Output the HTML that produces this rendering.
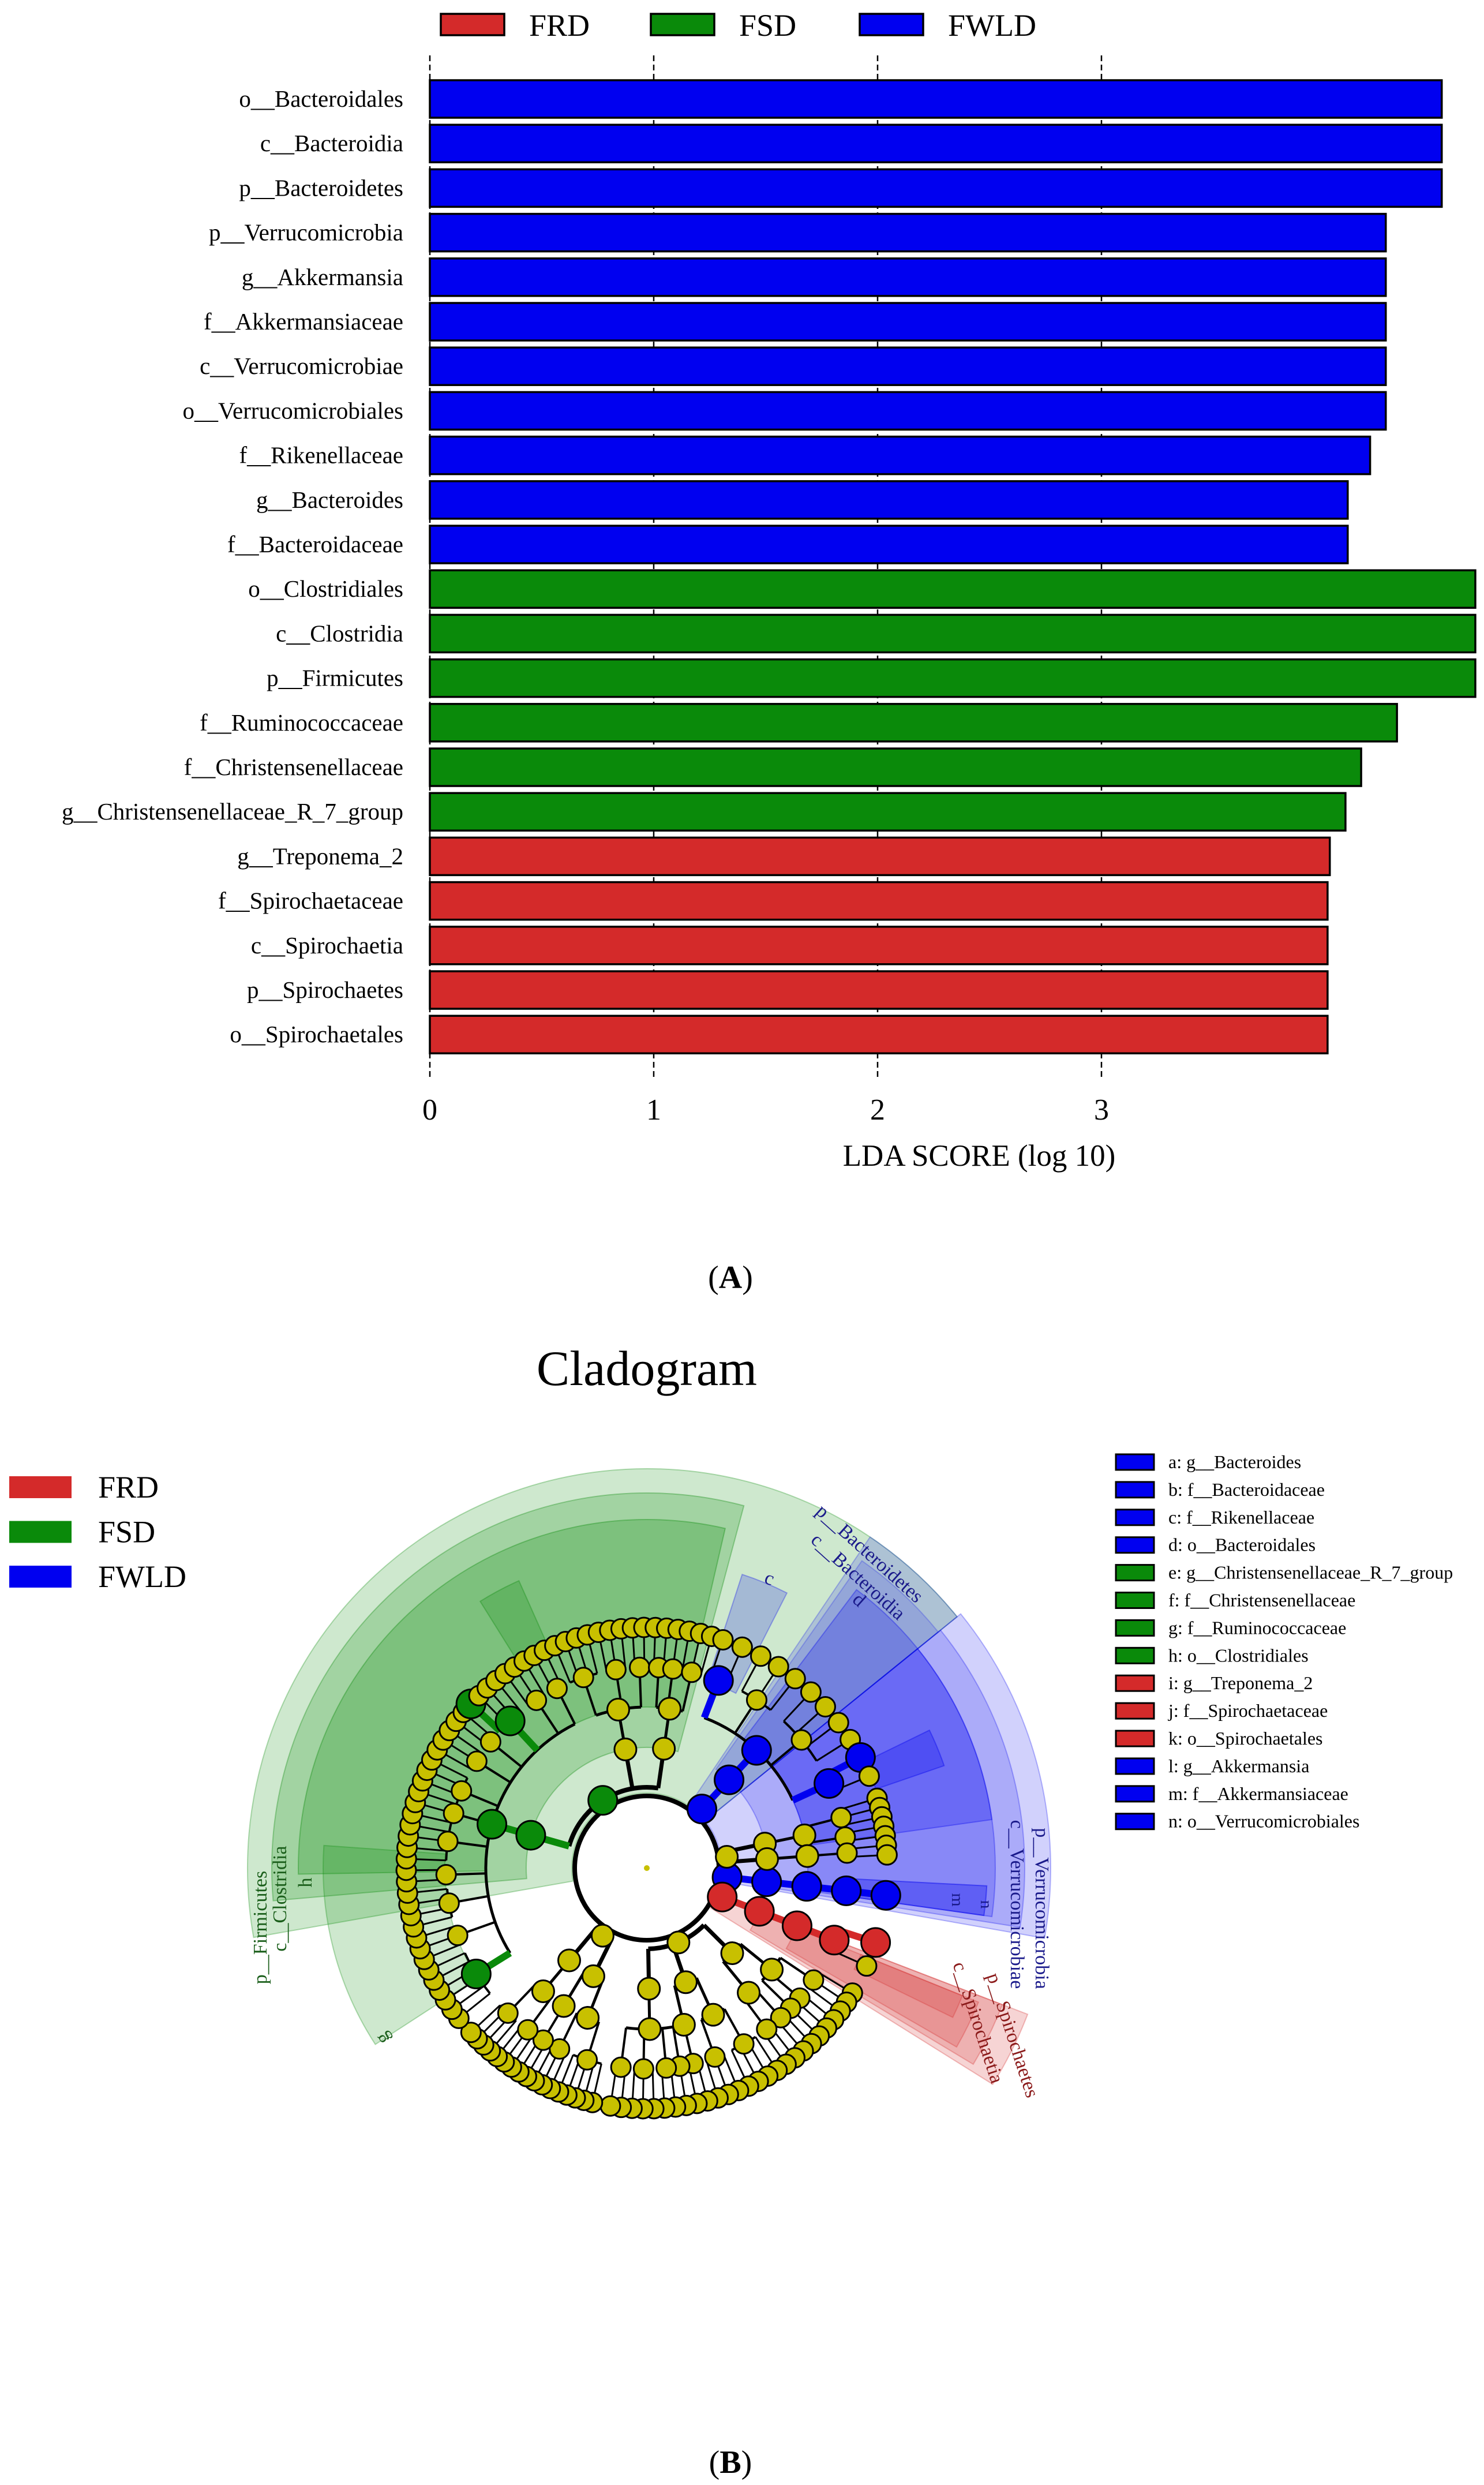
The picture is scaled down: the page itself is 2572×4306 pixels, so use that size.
<!DOCTYPE html>
<html><head><meta charset="utf-8">
<style>
html,body{margin:0;padding:0;background:#fff;}
svg{display:block;}
text{font-family:"Liberation Serif",serif;}
</style></head>
<body>
<svg id="root" width="2572" height="4306" viewBox="0 0 2572 4306" xmlns="http://www.w3.org/2000/svg" font-family="Liberation Serif, serif">
<g id="chartA"></g>
<text x="1266" y="2232" font-size="56" text-anchor="middle">(<tspan font-weight="bold">A</tspan>)</text>
<text x="1121" y="2400" font-size="86" text-anchor="middle">Cladogram</text>
<g id="clado"></g>
<text x="1266" y="4285" font-size="56" text-anchor="middle">(<tspan font-weight="bold">B</tspan>)</text>
</svg>
<script>
const categories = ["o__Bacteroidales","c__Bacteroidia","p__Bacteroidetes","p__Verrucomicrobia","g__Akkermansia","f__Akkermansiaceae","c__Verrucomicrobiae","o__Verrucomicrobiales","f__Rikenellaceae","g__Bacteroides","f__Bacteroidaceae","o__Clostridiales","c__Clostridia","p__Firmicutes","f__Ruminococcaceae","f__Christensenellaceae","g__Christensenellaceae_R_7_group","g__Treponema_2","f__Spirochaetaceae","c__Spirochaetia","p__Spirochaetes","o__Spirochaetales"];
const ldaValues = [4.52,4.52,4.52,4.27,4.27,4.27,4.27,4.27,4.20,4.10,4.10,4.67,4.67,4.67,4.32,4.16,4.09,4.02,4.01,4.01,4.01,4.01];
const groups = ["FWLD","FWLD","FWLD","FWLD","FWLD","FWLD","FWLD","FWLD","FWLD","FWLD","FWLD","FSD","FSD","FSD","FSD","FSD","FSD","FRD","FRD","FRD","FRD","FRD"];
const tickValues = [0,1,2,3];
const legendGroups = ["FRD","FSD","FWLD"];
const COL = {FRD:"#d42a2a", FSD:"#0a8a0a", FWLD:"#0000f0"};
const NS = "http://www.w3.org/2000/svg";
function mk(tag, attrs, parent){const e=document.createElementNS(NS,tag);for(const k in attrs)e.setAttribute(k,attrs[k]);parent.appendChild(e);return e;}
const xS = v => 745 + v*388;
const yS = i => 139 + i*77.2;
const A = document.getElementById('chartA');
tickValues.forEach(t=>{
  const l = mk('line',{x1:xS(t),x2:xS(t),y1:96,y2:1870,stroke:'#000','stroke-width':2.5,'stroke-dasharray':'10,6'},A);
  
  
  const tx = mk('text',{x:xS(t),y:1940,'font-size':52,'text-anchor':'middle'},A);
  tx.textContent = t;
  
  
});
categories.forEach((c,i)=>{
  const r = mk('rect',{x:xS(0),y:yS(i),width:xS(ldaValues[i])-xS(0),height:65,fill:COL[groups[i]],stroke:'#000','stroke-width':3.5},A);
  
  
  const t = mk('text',{x:699,y:yS(i)+46,'font-size':41,'text-anchor':'end'},A);
  t.textContent = c;
  
  
});
const at = mk('text',{x:1697,y:2020,'font-size':53,'text-anchor':'middle'},A);
at.textContent = "LDA SCORE (log 10)";


const legX = [764,1128,1490];
legendGroups.forEach((g,i)=>{
  const r = mk('rect',{x:legX[i],y:24,width:110,height:37,fill:COL[g],stroke:'#000','stroke-width':3.5},A);
  
  
  const t = mk('text',{x:legX[i]+153,y:62,'font-size':54},A);
  t.textContent = g;
  
  
});

/* ---------- Cladogram ---------- */
const C = document.getElementById('clado');
const cx=1121, cy=3237;
const LV = [125,140,209,279,348,417];
const YEL="#c8c000", GRN="#0a8a0a", BLU="#0000f0", RED="#d42a2a";
function pt(r,a){const t=a*Math.PI/180;return [cx+r*Math.cos(t), cy+r*Math.sin(t)];}
function wedge(r0,r1,a0,a1,fill,op,name){
  if(a1<a0)a1+=360;
  const p0=pt(r1,a0),p1=pt(r1,a1),p2=pt(r0,a1),p3=pt(r0,a0);
  const lg=(a1-a0)>180?1:0;
  const d=`M${p0[0]},${p0[1]} A${r1},${r1} 0 ${lg} 1 ${p1[0]},${p1[1]} L${p2[0]},${p2[1]} A${r0},${r0} 0 ${lg} 0 ${p3[0]},${p3[1]} Z`;
  const e=mk('path',{d:d,fill:fill,'fill-opacity':op,stroke:fill,'stroke-opacity':op*1.5,'stroke-width':2},C);
  
  
}
const wedges = [
 [130,692,170,321,GRN,.2,'wedge-firmicutes'],
 [209,650,175,285,GRN,.22,'wedge-clostridia'],
 [279,604,179,283,GRN,.24,'wedge-clostridiales'],
 [350,561,147,184,GRN,.2,'wedge-g-ruminococcaceae'],
 [420,545,238,246,GRN,.22,'wedge-e-f'],
 [130,692,304,321,BLU,.16,'wedge-bacteroidetes'],
 [209,650,305,321,BLU,.14,'wedge-bacteroidia'],
 [279,604,307,352,BLU,.22,'wedge-bacteroidales'],
 [340,535,288,297,BLU,.2,'wedge-rikenellaceae'],
 [130,700,321,10,BLU,.18,'wedge-verrucomicrobia'],
 [209,655,321,9,BLU,.18,'wedge-verrucomicrobiae'],
 [279,604,321,8,BLU,.2,'wedge-verrucomicrobiales'],
 [420,545,334,341,BLU,.25,'wedge-a-b'],
 [348,590,3,8,BLU,.3,'wedge-l-m-n'],
 [130,707,21,32,RED,.2,'wedge-spirochaetes'],
 [209,660,21,31,RED,.2,'wedge-spirochaetia'],
 [279,620,22,30,RED,.2,'wedge-spirochaetales'],
 [400,590,22,26,RED,.2,'wedge-i-j']
];
wedges.forEach(w=>wedge(...w));
mk('circle',{cx:cx,cy:cy,r:125,fill:'#fff',stroke:'#000','stroke-width':8},C);

const phyla = [
 {a0:2,a1:11,pc:BLU,cls:[[[1]]],hl:{'0':BLU,'0.0':BLU,'0.0.0':BLU,'0.0.0.0':BLU}},
 {a0:15,a1:27,pc:RED,cls:[[[2]]],hl:{'0':RED,'0.0':RED,'0.0.0':RED,'0.0.0.0':RED}},
 {a0:30,a1:100,pc:YEL,cls:[[[3,2,1],[2,2]],[[4,3],[2]],[[1,2,3,2]]],hl:{}},
 {a0:102,a1:138,pc:YEL,cls:[[[5,3],[2]],[[3,4]]],hl:{}},
 {a0:140,a1:287,pc:GRN,cls:[[[6,3,4,2,5,1,4,3,2,4,3,2]],[[4,3,2]],[[2,1,3]]],hl:{'0':GRN,'0.0':GRN,'0.0.0':GRN,'0.0.9':GRN,'0.0.9.0':GRN}},
 {a0:286,a1:340,pc:BLU,cls:[[[2,3,4,2]]],hl:{'0':BLU,'0.0':BLU,'0.0.0':BLU,'0.0.3':BLU,'0.0.3.0':BLU}},
 {a0:342,a1:358,pc:YEL,cls:[[[3,2]],[[2]]],hl:{}}
];
const lineG = mk('g',{},C), nodeG = mk('g',{},C);
function leaves(x){return typeof x==='number'?Math.max(x,1):x.reduce((s,c)=>s+leaves(c),0);}
function place(x,a0,a1,depth,path,ph){
  let kids;
  if(typeof x==='number'){kids=[];for(let i=0;i<x;i++)kids.push(0);}else kids=x;
  let ang;
  const childAngles=[];
  if(depth===5 || x===null){ang=(a0+a1)/2;}
  else{
    const tot=kids.reduce((s,c)=>s+(c===0?1:leaves(c)),0);
    let a=a0;
    kids.forEach((k,i)=>{
      const w=(a1-a0)*(k===0?1:leaves(k))/tot;
      childAngles.push(place(k===0?null:k,a,a+w,depth+1,path===''?String(i):path+'.'+i,ph));
      a+=w;
    });
    ang=(childAngles[0]+childAngles[childAngles.length-1])/2;
    const r=LV[depth];
    const mn=childAngles[0],mx=childAngles[childAngles.length-1];
    const sw=[8,6,5,4,3][depth-1]||2;
    const p0=pt(r,mn),p1=pt(r,mx);
    mk('path',{d:`M${p0[0]},${p0[1]} A${r},${r} 0 ${(mx-mn)>180?1:0} 1 ${p1[0]},${p1[1]}`,fill:'none',stroke:'#000','stroke-width':sw},lineG);
    childAngles.forEach((ca,i)=>{
      const q0=pt(r,ca),q1=pt(LV[depth+1],ca);
      const col=ph.hl[(path===''?'':path+'.')+i];
      mk('line',{x1:q0[0],y1:q0[1],x2:q1[0],y2:q1[1],stroke:col||'#000','stroke-width':col?12:Math.max(sw-1,2)},lineG);
    });
  }
  const col = depth===1?ph.pc:(ph.hl[path]||YEL);
  const p=pt(LV[depth],ang);
  const rad = col===YEL?(depth>=4?17:19):25;
  const c=mk('circle',{cx:p[0],cy:p[1],r:rad,fill:col,stroke:'#000','stroke-width':3},nodeG);
  
  
  return ang;
}
phyla.forEach(ph=>place(ph.cls,ph.a0,ph.a1,1,'',ph));
mk('circle',{cx:cx,cy:cy,r:5,fill:YEL},C);

function rtext(txt,x,y,rot,col,name,fs){
  const t=mk('text',{x:x,y:y,'font-size':fs||34,fill:col,'text-anchor':'middle',transform:`rotate(${rot} ${x} ${y})`},C);
  t.textContent=txt;
  
  
}
rtext('p__Firmicutes',462,3340,-90,'#1a5e1a','label-firmicutes');
rtext('c__Clostridia',496,3290,-90,'#1a5e1a','label-clostridia');
rtext('h',540,3262,-90,'#1a5e1a','label-h');
rtext('g',672,3527,-120,'#1a5e1a','label-g');
rtext('p__Bacteroidetes',1500,2700,42,'#1a1a8b','label-bacteroidetes');
rtext('c__Bacteroidia',1480,2740,42,'#1a1a8b','label-bacteroidia');
rtext('d',1482,2780,42,'#1a1a8b','label-d');
rtext('c',1330,2745,20,'#1a1a8b','label-c');
rtext('p__Verrucomicrobia',1795,3307,90,'#1a1a8b','label-verrucomicrobia');
rtext('c__Verrucomicrobiae',1752,3300,90,'#1a1a8b','label-verrucomicrobiae');
rtext('p__Spirochaetes',1745,3530,72,'#8b1a1a','label-spirochaetes');
rtext('c__Spirochaetia',1685,3508,72,'#8b1a1a','label-spirochaetia');
rtext('m',1650,3292,90,'#1a1a8b','label-m',30);
rtext('n',1700,3300,90,'#1a1a8b','label-n',30);

const cladoLegend = ["FRD","FSD","FWLD"];
cladoLegend.forEach((g,i)=>{
  const y=2558+i*77.5;
  const r=mk('rect',{x:16,y:y,width:108,height:38,fill:COL[g]},C);
  
  
  const t=mk('text',{x:170,y:y+37,'font-size':54},C);
  t.textContent=g;
  
  
});
const keyLabels = ["a: g__Bacteroides","b: f__Bacteroidaceae","c: f__Rikenellaceae","d: o__Bacteroidales","e: g__Christensenellaceae_R_7_group","f: f__Christensenellaceae","g: f__Ruminococcaceae","h: o__Clostridiales","i: g__Treponema_2","j: f__Spirochaetaceae","k: o__Spirochaetales","l: g__Akkermansia","m: f__Akkermansiaceae","n: o__Verrucomicrobiales"];
const keyGroups = ["FWLD","FWLD","FWLD","FWLD","FSD","FSD","FSD","FSD","FRD","FRD","FRD","FWLD","FWLD","FWLD"];
keyLabels.forEach((k,i)=>{
  const y=2533+i*47.9;
  const r=mk('rect',{x:1934,y:y-13,width:66,height:27,fill:COL[keyGroups[i]],stroke:'#000','stroke-width':3},C);
  
  
  const t=mk('text',{x:2025,y:y+11,'font-size':32},C);
  t.textContent=k;
  
  
});
</script>
</body></html>
